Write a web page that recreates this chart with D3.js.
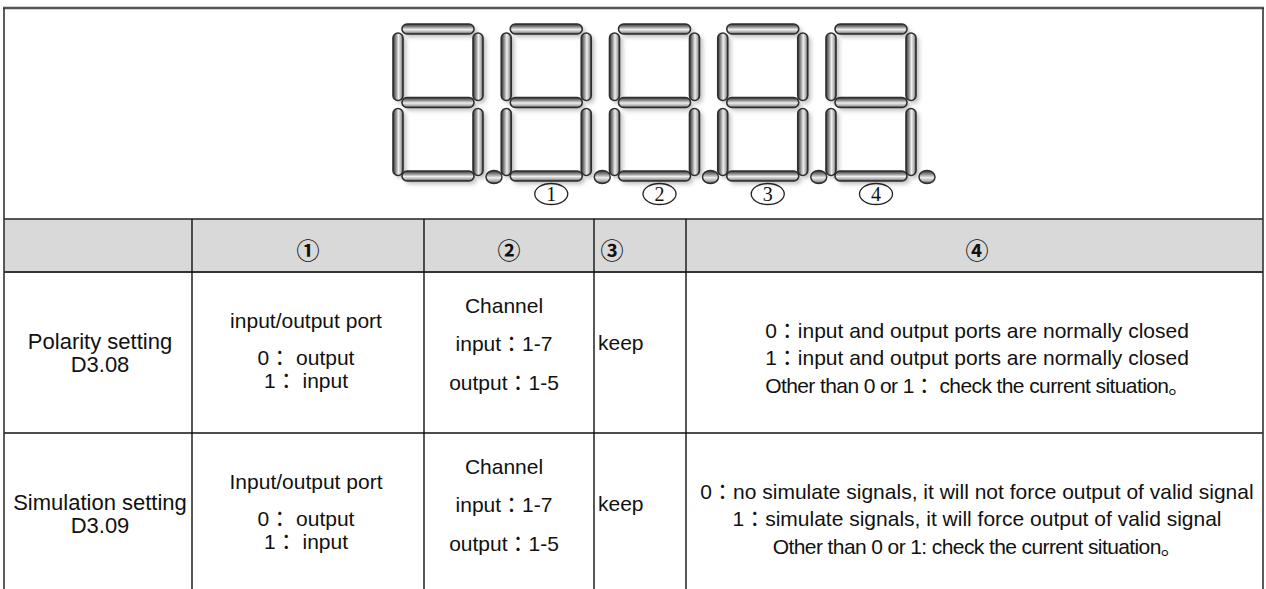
<!DOCTYPE html>
<html>
<head>
<meta charset="utf-8">
<script src="https://cdn.jsdelivr.net/npm/d3@7"></script>
<style>
  html, body { margin: 0; padding: 0; background: #fff; }
  svg { display: block; }
  text { font-family: "Liberation Sans", Arial, "Noto Sans CJK JP", sans-serif; fill: #111; }
</style>
</head>
<body>
<script>
// ---------- data ----------
const digitSlots = ["d1", "d2", "d3", "d4", "d5"];
const displayMarks = ["①", "②", "③", "④"];
const headerLabels = ["", "①", "②", "③", "④"];
const rowNames = [["Polarity setting", "D3.08"], ["Simulation setting", "D3.09"]];
const portText = [["input/output port", "0：  output", "1：  input"],
                  ["Input/output port", "0：  output", "1：  input"]];
const channelText = [["Channel", "input：1-7", "output：1-5"],
                     ["Channel", "input：1-7", "output：1-5"]];
const reservedText = [["keep"], ["keep"]];
const meaningText = [
  ["0：input and output ports are normally closed",
   "1：input and output ports are normally closed",
   "Other than 0 or 1： check the current situation。"],
  ["0：no simulate signals, it will not force output of valid signal",
   "1：simulate signals, it will force output of valid signal",
   "Other than 0 or 1: check the current situation。"]
];

// ---------- layout ----------
const W = 1266, H = 589;
const colEdges = [4, 192, 424, 594, 686, 1263];
const topY = 8, headTop = 219, headBot = 272, rowH = 161;

const svg = d3.select("body").append("svg").attr("width", W).attr("height", H);
const defs = svg.append("defs");

function tubeGrad(id, vertical) {
  const g = defs.append("linearGradient").attr("id", id)
    .attr("x1", 0).attr("y1", 0)
    .attr("x2", vertical ? 1 : 0).attr("y2", vertical ? 0 : 1);
  [[0, "#333"], [0.28, "#8a8a8a"], [0.55, "#eeeeee"], [0.8, "#b0b0b0"], [1, "#4a4a4a"]]
    .forEach(([o, c]) => g.append("stop").attr("offset", o).attr("stop-color", c));
}
tubeGrad("gv", true);
tubeGrad("gh", false);
const blur = defs.append("filter").attr("id", "sh").attr("x", "-50%").attr("y", "-50%").attr("width", "200%").attr("height", "200%");
blur.append("feGaussianBlur").attr("stdDeviation", 2.2);

// ---------- 7-segment display ----------
const xDigit = d3.scaleLinear().domain([0, digitSlots.length - 1]).range([393, 826]);
const dW = 90, t = 10, yD = d3.scaleLinear().domain([0, 1]).range([24, 181]);
function segs() {
  const y0 = yD(0), y1 = yD(1), ym = (y0 + y1) / 2;
  return [
    { x: t - 1, y: y0, w: dW - 2 * t + 2, h: t, o: "h" },
    { x: 0, y: y0 + t - 1, w: t, h: ym - y0 - t - 1, o: "v" },
    { x: dW - t, y: y0 + t - 1, w: t, h: ym - y0 - t - 1, o: "v" },
    { x: t - 1, y: ym - t / 2, w: dW - 2 * t + 2, h: t, o: "h" },
    { x: 0, y: ym + t / 2 + 1, w: t, h: y1 - ym - t - 1.5, o: "v" },
    { x: dW - t, y: ym + t / 2 + 1, w: t, h: y1 - ym - t - 1.5, o: "v" },
    { x: t - 1, y: y1 - t, w: dW - 2 * t + 2, h: t, o: "h" }
  ];
}
const digitG = svg.append("g").selectAll("g").data(digitSlots).join("g")
  .attr("transform", (d, i) => `translate(${xDigit(i)},0)`);
digitG.each(function () {
  const g = d3.select(this);
  const s = segs();
  g.selectAll("rect.sh").data(s).join("rect").attr("class", "sh")
    .attr("x", d => d.x + 3).attr("y", d => d.y + 3).attr("width", d => d.w).attr("height", d => d.h)
    .attr("rx", t / 2).attr("fill", "#bdbdbd").attr("filter", "url(#sh)");
  g.selectAll("rect.sg").data(s).join("rect").attr("class", "sg")
    .attr("x", d => d.x).attr("y", d => d.y).attr("width", d => d.w).attr("height", d => d.h)
    .attr("rx", t / 2).attr("fill", d => d.o === "v" ? "url(#gv)" : "url(#gh)")
    .attr("stroke", "#2e2e2e").attr("stroke-width", 1.6);
  g.append("ellipse").attr("cx", dW + 11).attr("cy", yD(1) - 4).attr("rx", 8).attr("ry", 6.5)
    .attr("fill", "url(#gh)").attr("stroke", "#2e2e2e").attr("stroke-width", 1.5);
});
const markG = svg.append("g").selectAll("g").data(displayMarks).join("g")
  .attr("transform", (d, i) => `translate(${xDigit(i + 1) + dW / 2 + 5},194)`);
markG.append("ellipse").attr("rx", 16.5).attr("ry", 10.5).attr("fill", "none")
  .attr("stroke", "#222").attr("stroke-width", 1.3);
markG.append("text").attr("text-anchor", "middle").attr("dy", "0.35em")
  .style("font-family", "'Liberation Serif', serif").style("font-size", "20px")
  .text((d, i) => String(i + 1));

// ---------- table ----------
svg.append("rect").attr("x", colEdges[0]).attr("y", headTop)
  .attr("width", colEdges[5] - colEdges[0]).attr("height", headBot - headTop).attr("fill", "#d9d9d9");

svg.append("line").attr("x1", colEdges[0] - 1).attr("x2", colEdges[5] + 1).attr("y1", topY).attr("y2", topY)
  .attr("stroke", "#555").attr("stroke-width", 2.5);
[[headTop, 1.6, "#222"], [headBot, 2, "#333"], [headBot + rowH, 1.6, "#111"]].forEach(([y, w, c]) =>
  svg.append("line").attr("x1", colEdges[0]).attr("x2", colEdges[5]).attr("y1", y).attr("y2", y)
    .attr("stroke", c).attr("stroke-width", w));
[colEdges[0], colEdges[5]].forEach(x =>
  svg.append("line").attr("x1", x).attr("x2", x).attr("y1", topY).attr("y2", H)
    .attr("stroke", "#333").attr("stroke-width", 1.6));
colEdges.slice(1, 5).forEach(x =>
  svg.append("line").attr("x1", x).attr("x2", x).attr("y1", headTop).attr("y2", H)
    .attr("stroke", "#111").attr("stroke-width", 1.4));

const headX = [98, 308, 509, 612, 977];
svg.append("g").selectAll("text").data(headerLabels).join("text")
  .attr("x", (d, i) => headX[i]).attr("y", 251).attr("dy", "0.36em").attr("text-anchor", "middle")
  .style("font-family", "'Noto Sans CJK SC', 'DejaVu Sans', sans-serif")
  .style("font-size", "23px").style("font-weight", "bold").text(d => d);

const cellSpec = [
  { data: rowNames, x: 100, anchor: "middle", off: [69, 92], fs: 22 },
  { data: portText, x: 306, anchor: "middle", off: [48, 85, 108], fs: 21 },
  { data: channelText, x: 504, anchor: "middle", off: [33, 71, 110], fs: 21 },
  { data: reservedText, x: 598, anchor: "start", off: [70], fs: 21 },
  { data: meaningText, x: 977, anchor: "middle", off: [58, 85, 113], fs: 21 }
];
cellSpec.forEach(spec => {
  spec.data.forEach((lines, r) => {
    svg.append("g").selectAll("text").data(lines).join("text")
      .attr("x", spec.x).attr("y", (d, k) => headBot + r * rowH + spec.off[k])
      .attr("dy", "0.36em").attr("text-anchor", spec.anchor)
      .style("font-size", spec.fs + "px")
      .style("letter-spacing", d => d.startsWith("Other") ? "-0.6px" : null)
      .text(d => d);
  });
});
</script>
</body>
</html>
